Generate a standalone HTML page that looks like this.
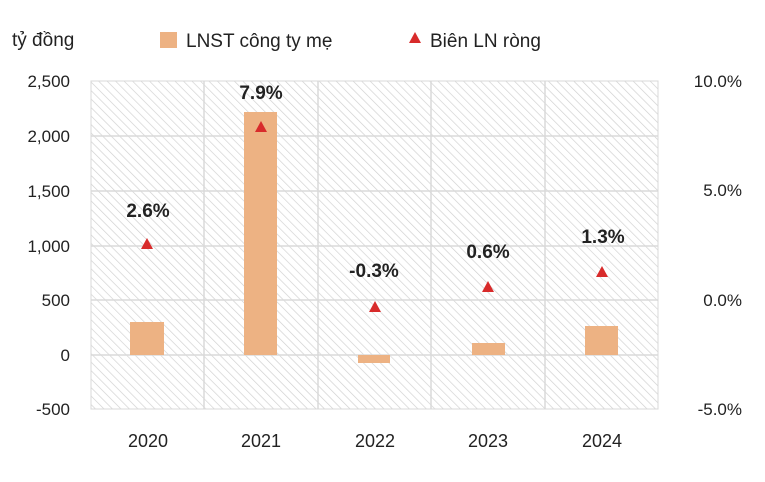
<!DOCTYPE html>
<html><head><meta charset="utf-8"><style>body{margin:0;background:#fff}</style></head><body>
<svg width="765" height="477" xmlns="http://www.w3.org/2000/svg" font-family="Liberation Sans, sans-serif">
<defs><pattern id="h" width="6" height="6" patternUnits="userSpaceOnUse" patternTransform="rotate(-45)"><rect width="6" height="6" fill="#fff"/><line x1="0" y1="0" x2="0" y2="6" stroke="#cfcfcf" stroke-width="1.3"/></pattern></defs>
<rect x="91" y="81" width="567" height="328" fill="url(#h)" stroke="#d8d8d8"/>
<g stroke="#dadada" stroke-width="1.5">
<line x1="91" y1="136" x2="658" y2="136"/><line x1="91" y1="191" x2="658" y2="191"/><line x1="91" y1="246" x2="658" y2="246"/><line x1="91" y1="300" x2="658" y2="300"/><line x1="91" y1="355" x2="658" y2="355"/>
<line x1="204" y1="81" x2="204" y2="409"/><line x1="318" y1="81" x2="318" y2="409"/><line x1="431" y1="81" x2="431" y2="409"/><line x1="545" y1="81" x2="545" y2="409"/>
</g>
<g fill="#edb283">
<rect x="130" y="322" width="34" height="33"/><rect x="244" y="112" width="33" height="243"/><rect x="358" y="355" width="32" height="8"/><rect x="472" y="343" width="33" height="12"/><rect x="585" y="326" width="33" height="29"/>
</g>
<g fill="#d82b2b">
<path d="M147 238l6 11h-12z"/><path d="M261 121l6 11h-12z"/><path d="M375 301l6 11h-12z"/><path d="M488 281l6 11h-12z"/><path d="M602 266l6 11h-12z"/>
</g>
<g font-weight="bold" font-size="19" fill="#222" text-anchor="middle">
<text x="148" y="217">2.6%</text><text x="261" y="99">7.9%</text><text x="374" y="277">-0.3%</text><text x="488" y="258">0.6%</text><text x="603" y="243">1.3%</text>
</g>
<g font-size="17" fill="#222" text-anchor="end">
<text x="70" y="87">2,500</text><text x="70" y="142">2,000</text><text x="70" y="197">1,500</text><text x="70" y="252">1,000</text><text x="70" y="306">500</text><text x="70" y="361">0</text><text x="70" y="415">-500</text>
</g>
<g font-size="17" fill="#222" text-anchor="end">
<text x="742" y="87">10.0%</text><text x="742" y="196">5.0%</text><text x="742" y="306">0.0%</text><text x="742" y="415">-5.0%</text>
</g>
<g font-size="18" fill="#222" text-anchor="middle">
<text x="148" y="447">2020</text><text x="261" y="447">2021</text><text x="375" y="447">2022</text><text x="488" y="447">2023</text><text x="602" y="447">2024</text>
</g>
<text x="12" y="46" font-size="19" fill="#222">tỷ đồng</text>
<rect x="160" y="32" width="17" height="16" fill="#edb283"/>
<text x="186" y="47" font-size="19" fill="#222">LNST công ty mẹ</text>
<path d="M415 32l6 11h-12z" fill="#d82b2b"/>
<text x="430" y="47" font-size="19" fill="#222">Biên LN ròng</text>
</svg>
</body></html>
